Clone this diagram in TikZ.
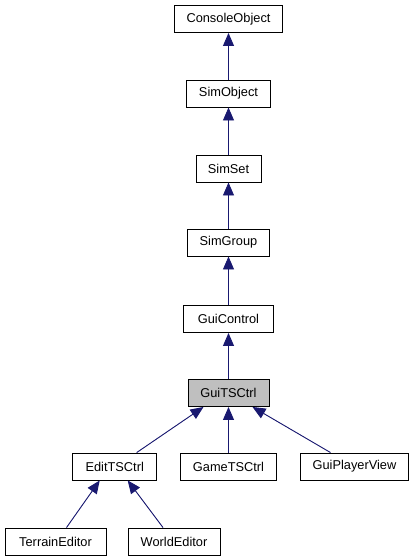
\documentclass[tikz,border=0pt]{standalone}
\usepackage{fontspec}
\setmainfont{Liberation Sans}
\usetikzlibrary{arrows.meta}
\definecolor{edgeblue}{HTML}{191970}
\definecolor{curgray}{HTML}{BFBFBF}
\begin{document}
\begin{tikzpicture}[x=1pt,y=-1pt,
  cls/.style={draw=black,line width=0.9pt,fill=white,minimum height=27pt,inner sep=0pt,font=\fontsize{12.8pt}{14pt}\selectfont,anchor=center},
  arr/.style={draw=edgeblue,line width=0.9pt,-{Triangle[length=13pt,width=11pt]},fill=edgeblue}]
\useasboundingbox (0,0) rectangle (414,560);
\node[cls,minimum width=108pt] (console) at (228.5,19) {ConsoleObject};
\node[cls,minimum width=84pt] (simobj) at (228.5,93.5) {SimObject};
\node[cls,minimum width=65pt] (simset) at (228.5,168.5) {SimSet};
\node[cls,minimum width=82pt] (simgroup) at (228.5,242.5) {SimGroup};
\node[cls,minimum width=90pt] (guicontrol) at (228.5,319) {GuiControl};
\node[cls,minimum width=81pt,fill=curgray] (guits) at (228.5,393) {GuiTSCtrl};
\node[cls,minimum width=84pt] (edit) at (114.7,466.5) {EditTSCtrl};
\node[cls,minimum width=96pt] (game) at (228.5,466.5) {GameTSCtrl};
\node[cls,minimum width=108pt] (player) at (354.5,466.5) {GuiPlayerView};
\node[cls,minimum width=101pt] (terrain) at (55.5,541.5) {TerrainEditor};
\node[cls,minimum width=92pt] (world) at (174,541.5) {WorldEditor};
\draw[arr] (simobj.north) -- (console.south);
\draw[arr] (simset.north) -- (simobj.south);
\draw[arr] (simgroup.north) -- (simset.south);
\draw[arr] (guicontrol.north) -- (simgroup.south);
\draw[arr] (guits.north) -- (guicontrol.south);
\draw[arr] (game.north) -- (guits.south);
\draw[arr] ([xshift=22pt]edit.north) -- ([xshift=-25pt]guits.south);
\draw[arr] ([xshift=-24pt]player.north) -- ([xshift=24pt]guits.south);
\draw[arr] ([xshift=11pt]terrain.north) -- ([xshift=-15pt]edit.south);
\draw[arr] ([xshift=-11pt]world.north) -- ([xshift=13pt]edit.south);
\end{tikzpicture}
\end{document}
